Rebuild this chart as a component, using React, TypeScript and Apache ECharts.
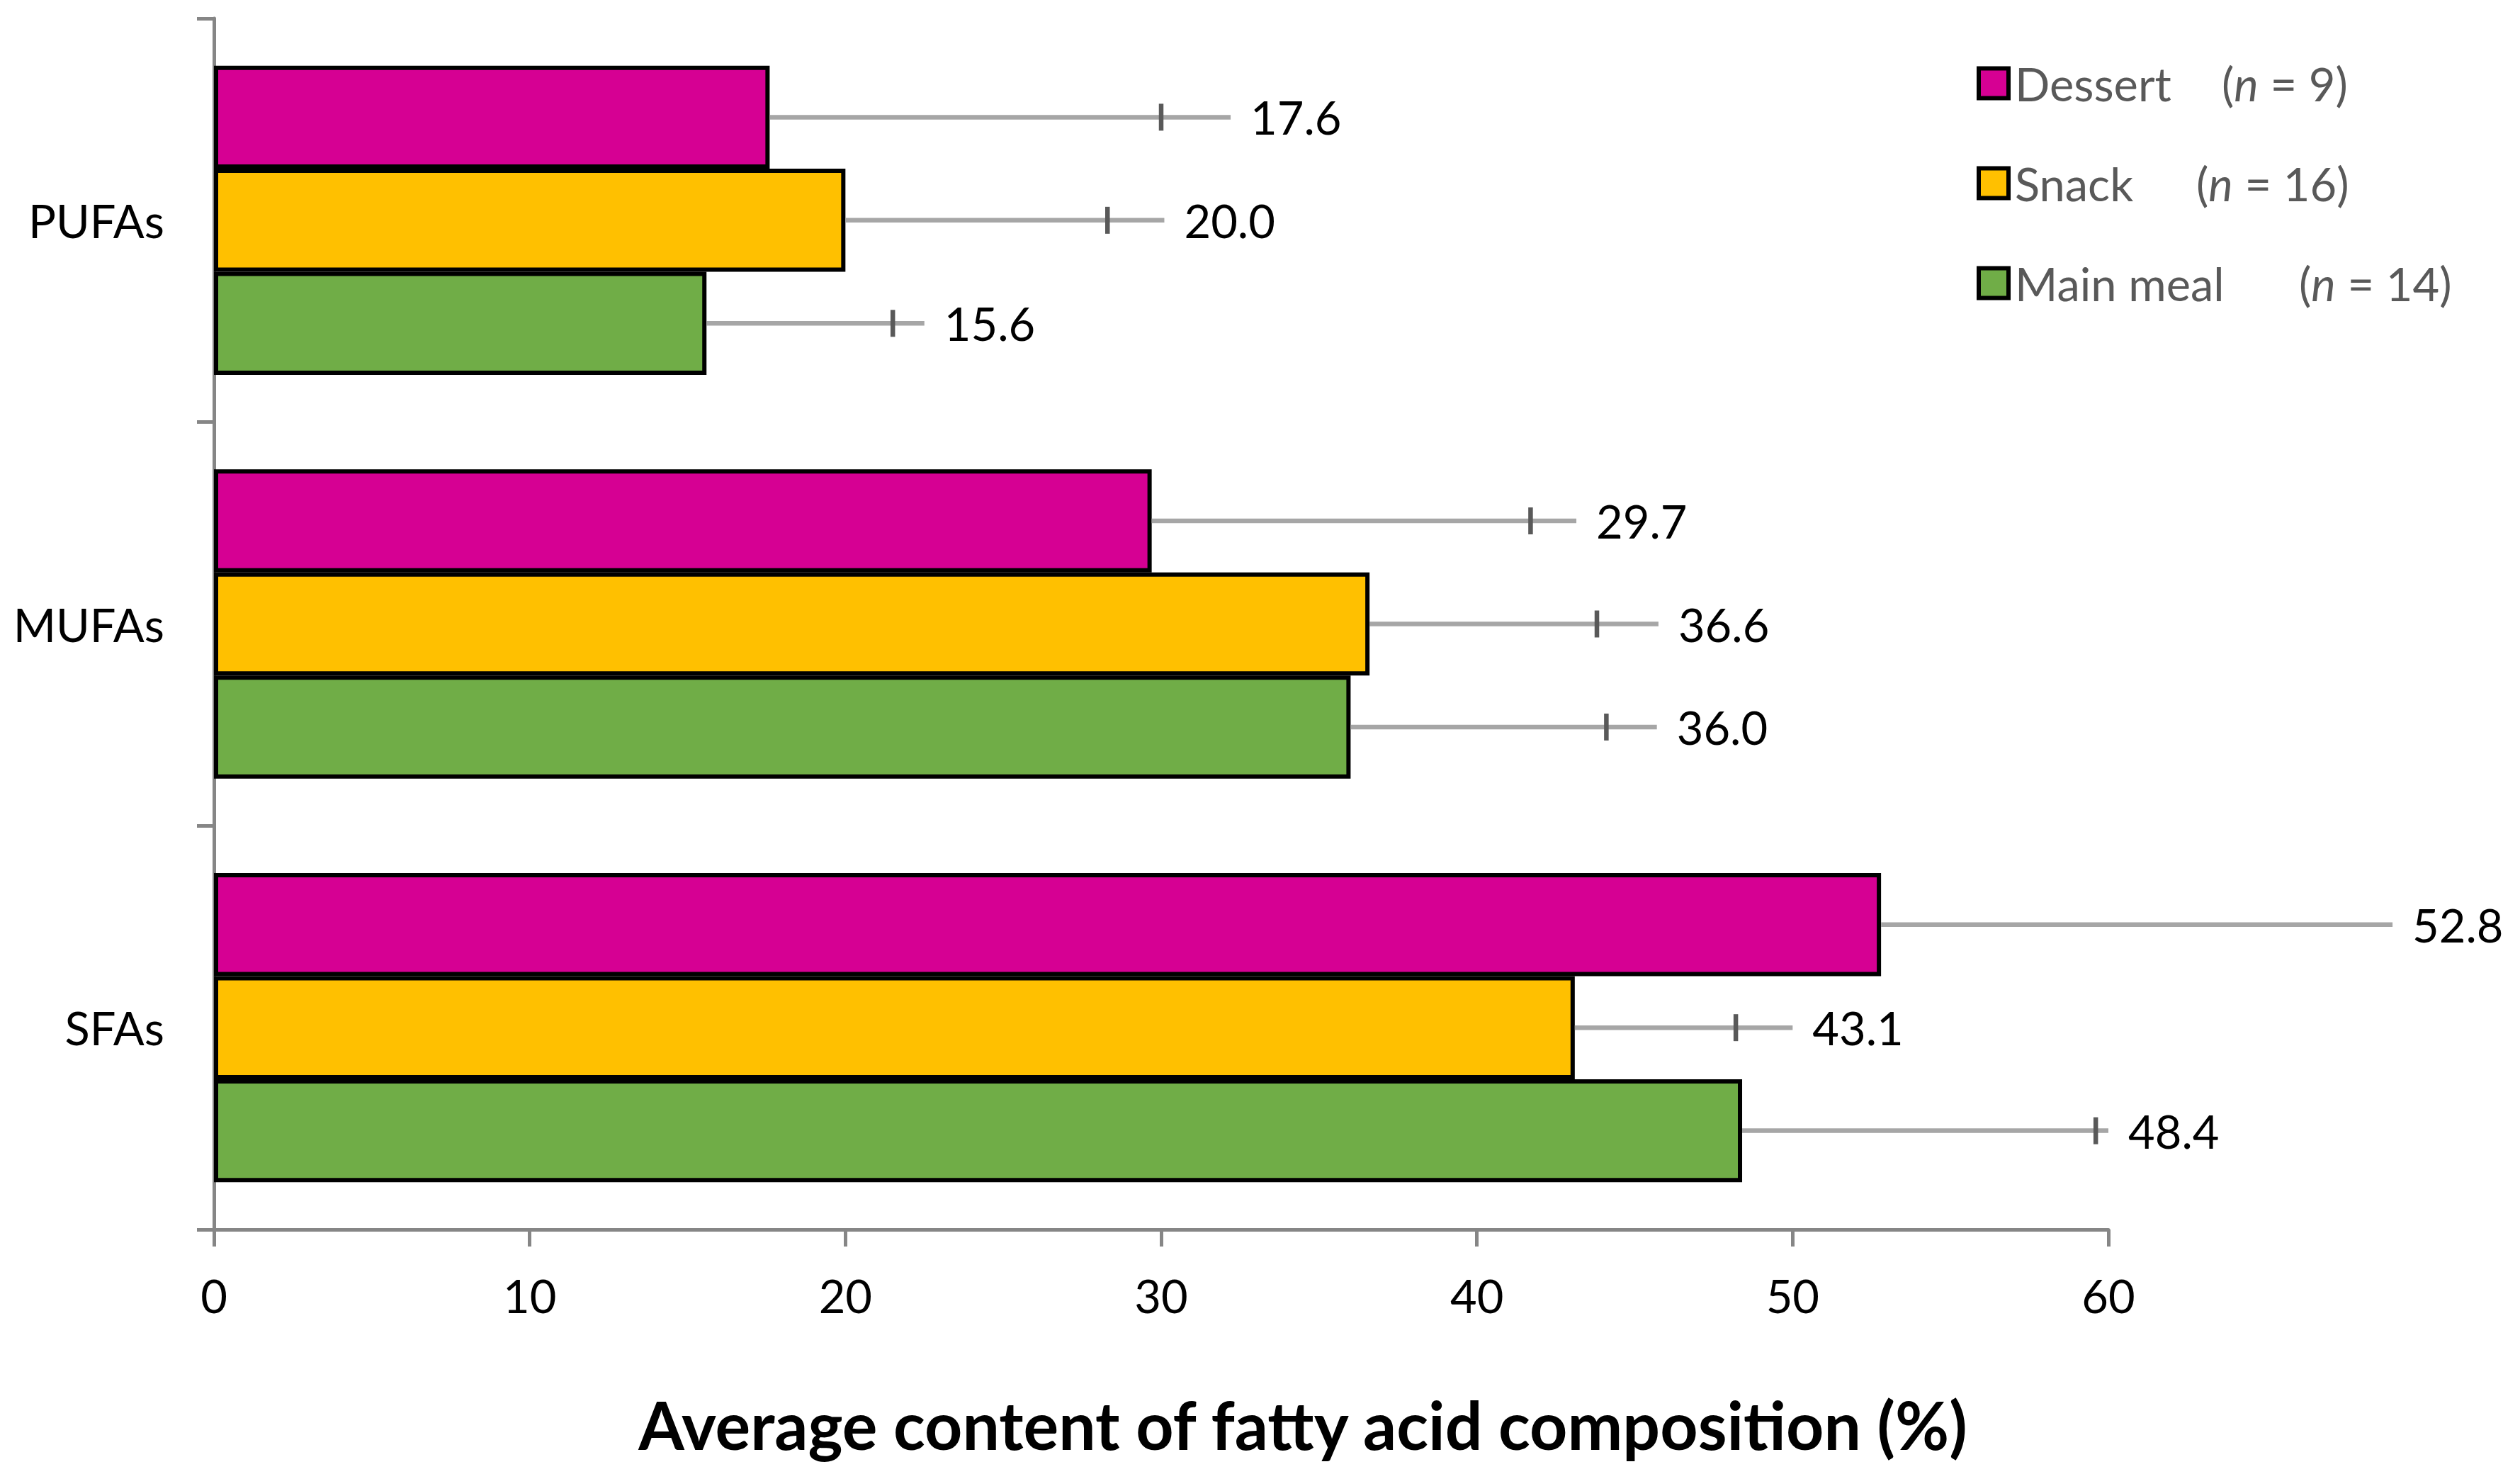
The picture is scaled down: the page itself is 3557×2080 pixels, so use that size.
import React, { useEffect, useRef } from "react";
import * as echarts from "echarts";

// ---- data ----
const CATEGORIES = ["SFAs", "MUFAs", "PUFAs"];
const GROUPS = ["Dessert", "Snack", "Main meal"];
const GROUP_N = [9, 16, 14];
const DESSERT = [52.8, 29.7, 17.6];
const SNACK = [43.1, 36.6, 20.0];
const MAIN_MEAL = [48.4, 36.0, 15.6];
// upper error (SD) per category; null = not visible
const DESSERT_SD = [null, 12.0, 12.4];
const SNACK_SD = [5.1, 7.2, 8.3];
const MAIN_MEAL_SD = [11.2, 8.1, 5.9];
// where each data label's leader line ends (axis units)
const DESSERT_LABEL_AT = [69.0, 43.15, 32.2];
const SNACK_LABEL_AT = [50.0, 45.75, 30.1];
const MAIN_MEAL_LABEL_AT = [60.0, 45.7, 22.5];
const X_TICKS = { min: 0, max: 60, interval: 10 };

const VALUES = [DESSERT, SNACK, MAIN_MEAL];
const SDS = [DESSERT_SD, SNACK_SD, MAIN_MEAL_SD];
const LABEL_AT = [DESSERT_LABEL_AT, SNACK_LABEL_AT, MAIN_MEAL_LABEL_AT];
const COLORS = ["#D60093", "#FFC000", "#70AD47"];
const LEGEND_NAME_W = [292, 256, 401];

const FONT = "Lato, 'Open Sans', sans-serif";
const CAT_GAP = 0.234;
const AXIS_COLOR = "#868686";

function makeRenderItem(k: number) {
  return (params: any, api: any) => {
    const cat = api.value(0);
    const mean = api.value(1);
    const sd = api.value(2);
    const labelAt = api.value(3);
    const center = api.coord([0, cat]);
    const band = api.size([0, 1])[1];
    const barW = (band * (1 - CAT_GAP)) / 3;
    const y = center[1] + (k - 1) * barW;
    const x0 = api.coord([mean, cat])[0];
    const x1 = api.coord([labelAt, cat])[0];
    const children: any[] = [
      {
        type: "line",
        shape: { x1: x0, y1: y, x2: x1, y2: y },
        style: { stroke: "#A6A6A6", lineWidth: 6.5 },
      },
    ];
    if (sd != null && !isNaN(sd)) {
      const xt = api.coord([mean + sd, cat])[0];
      children.push({
        type: "line",
        shape: { x1: xt, y1: y - 19, x2: xt, y2: y + 19 },
        style: { stroke: "#595959", lineWidth: 6.5 },
      });
    }
    children.push({
      type: "text",
      style: {
        text: mean.toFixed(1),
        x: x1 + 28,
        y: y,
        align: "left",
        verticalAlign: "middle",
        fontSize: 65,
        fontFamily: FONT,
        fill: "#000",
      },
    });
    return { type: "group", children };
  };
}

export default function App() {
  const ref = useRef<HTMLDivElement>(null);
  useEffect(() => {
    if (!ref.current) return;
    const chart = echarts.init(ref.current, null, { renderer: "svg" });

    const barSeries = GROUPS.map((g, k) => ({
      name: g,
      type: "bar",
      data: VALUES[k],
      barGap: "0%",
      barCategoryGap: CAT_GAP * 100 + "%",
      itemStyle: { color: COLORS[k], borderColor: "#000", borderWidth: 6 },
      z: 2,
    }));

    const errSeries = GROUPS.map((g, k) => ({
      name: g + " error",
      type: "custom",
      renderItem: makeRenderItem(k),
      encode: { x: 1, y: 0 },
      data: CATEGORIES.map((_, i) => [i, VALUES[k][i], SDS[k][i] == null ? "-" : SDS[k][i], LABEL_AT[k][i]]),
      z: 5,
      silent: true,
    }));

    const rich: any = {
      p: { fontSize: 65, fontFamily: FONT, color: "#595959", lineHeight: 80 },
      i: { fontSize: 65, fontFamily: FONT, color: "#595959", fontStyle: "italic", lineHeight: 80 },
    };
    LEGEND_NAME_W.forEach((w, k) => {
      rich["n" + k] = {
        fontSize: 65,
        fontFamily: FONT,
        color: "#595959",
        width: w,
        padding: [0, 0, 0, 4],
        lineHeight: 80,
      };
    });

    chart.setOption({
      animation: false,
      backgroundColor: "#fff",
      grid: { left: 302, top: 26, width: 2674, height: 1709, containLabel: false },
      xAxis: {
        type: "value",
        min: X_TICKS.min,
        max: X_TICKS.max,
        interval: X_TICKS.interval,
        axisLine: { show: true, lineStyle: { color: AXIS_COLOR, width: 5 } },
        axisTick: { show: true, length: 24, lineStyle: { color: AXIS_COLOR, width: 5 } },
        splitLine: { show: false },
        axisLabel: { fontSize: 65, fontFamily: FONT, color: "#000", margin: 60 },
      },
      yAxis: {
        type: "category",
        data: CATEGORIES,
        axisLine: { show: true, lineStyle: { color: AXIS_COLOR, width: 5 } },
        axisTick: { show: true, length: 24, lineStyle: { color: AXIS_COLOR, width: 5 } },
        axisLabel: { fontSize: 65, fontFamily: FONT, color: "#000", margin: 70 },
      },
      legend: {
        data: GROUPS,
        orient: "vertical",
        left: 2785,
        top: 80,
        icon: "rect",
        itemWidth: 42,
        itemHeight: 42,
        itemGap: 76,
        itemStyle: { borderColor: "#000", borderWidth: 6 },
        textStyle: { fontSize: 65, fontFamily: FONT, color: "#595959", rich },
        formatter: (name: string) => {
          const k = GROUPS.indexOf(name);
          return `{n${k}|${name}}{p|(}{i|n}{p| = ${GROUP_N[k]})}`;
        },
      },
      graphic: [
        {
          type: "text",
          x: 1839,
          y: 2010,
          style: {
            text: "Average content of fatty acid composition (%)",
            x: 0,
            y: 0,
            align: "center",
            verticalAlign: "middle",
            fontSize: 93,
            fontWeight: "bold",
            fontFamily: FONT,
            fill: "#000",
          },
        },
      ],
      series: [...barSeries, ...errSeries],
    });
    return () => chart.dispose();
  }, []);
  return (
    <div
      ref={ref}
      style={{ position: "fixed", left: 0, top: 0, width: 3557, height: 2080, background: "#fff" }}
    />
  );
}
